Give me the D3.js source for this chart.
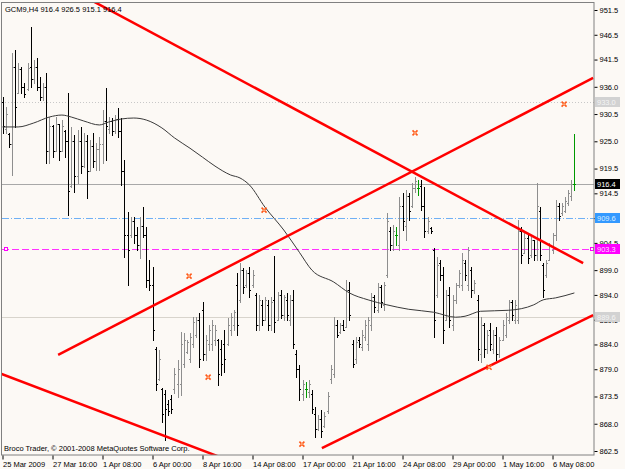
<!DOCTYPE html>
<meta charset="utf-8">
<style>
  body { margin: 0; background: #fcf9f5; }
  text { font-family: "Liberation Sans", Arial, sans-serif; font-size: 7.5px; }
</style>
<body>
<script src="https://cdn.jsdelivr.net/npm/d3@7/dist/d3.min.js"></script>
<script>

    var title = "GCM9,H4  916.4 926.5 915.1 916.4";
    var copyright = "Broco Trader, \u00a9 2001-2008 MetaQuotes Software Corp.";

    // H4 bars, oldest first (index = bar number)
    var openP = [
        933.0, 927.5, 926.5, 924.5, 940, 934.8, 939.5, 936, 935.5, 940,
        937.5, 940, 936, 934, 936, 923, 928, 923, 928.5, 923,
        927, 925, 916, 925, 918, 925, 920, 925, 919, 924,
        921, 923.5, 924.5, 929, 927.5, 929, 927, 929.5, 927, 919,
        906, 906, 909, 906, 904, 908, 906, 897, 896, 883,
        877, 875, 874, 872, 873, 875, 876, 876, 880, 882.5,
        881, 884, 886, 889, 891, 882, 884, 884, 885, 885,
        883, 884, 884, 887, 888, 896, 893, 899, 896, 898.5,
        896, 894, 888, 892, 889, 892, 888, 893, 889, 894,
        890, 893, 889, 893, 882, 879, 874, 875, 874.5, 874,
        870, 867, 869, 867.5, 870.5, 877, 878, 888, 886.5, 888,
        887.5, 895, 884, 881, 885, 883.5, 885.5, 884, 888, 893.5,
        891, 895.5, 892, 898, 907, 904, 906, 904, 912, 908,
        914, 912, 915.5, 915.5, 916, 912, 907, 907.5, 903, 894,
        900.5, 898, 889, 894, 888, 893, 896, 896, 900.5, 896,
        899, 895, 893, 882, 888, 883, 887, 883, 886, 882,
        885, 886, 889, 892.5, 889, 889, 907, 902.5, 905.5, 902,
        905, 902, 911, 900, 898, 901, 903, 906, 912, 910.5,
        911, 912.5, 914, 916.4
    ];
    var highP = [
        933.9, 931.9, 926.7, 942.8, 943.4, 940.8, 940.0, 936.8, 940.8, 948.1,
        941.4, 941.8, 938.0, 936.8, 938.8, 929.9, 928.3, 929.9, 928.3, 929.3,
        927.3, 934.7, 927.9, 926.3, 927.3, 927.9, 926.7, 926.3, 925.2, 926.7,
        924.6, 925.9, 931.3, 935.7, 929.9, 929.7, 930.3, 931.7, 929.7, 921.2,
        910.7, 909.7, 909.7, 907.7, 909.7, 911.7, 907.7, 901.0, 899.6, 883.5,
        882.9, 875.2, 874.8, 872.8, 873.8, 879.2, 880.9, 886.5, 886.3, 884.9,
        886.3, 889.5, 889.5, 890.3, 892.6, 885.9, 887.9, 888.9, 887.9, 885.1,
        884.9, 886.9, 889.3, 890.3, 890.9, 898.4, 900.4, 899.4, 899.0, 899.6,
        899.0, 894.4, 894.0, 893.0, 893.6, 893.0, 893.6, 901.8, 894.6, 895.0,
        894.0, 894.4, 894.0, 895.0, 882.9, 879.8, 876.8, 876.4, 876.8, 874.8,
        871.4, 869.8, 870.8, 870.4, 874.4, 879.8, 889.5, 888.9, 888.3, 888.9,
        897.0, 896.6, 884.9, 885.5, 885.5, 886.9, 888.9, 889.5, 894.4, 894.0,
        896.4, 896.0, 896.6, 910.5, 907.7, 908.1, 907.7, 913.7, 914.6, 915.2,
        914.6, 916.6, 917.8, 917.2, 917.2, 915.8, 909.7, 907.7, 903.5, 901.6,
        901.0, 899.6, 895.0, 895.6, 894.0, 896.4, 899.0, 902.4, 901.0, 903.7,
        899.6, 897.0, 894.0, 889.5, 888.3, 886.9, 888.3, 886.9, 887.5, 885.5,
        888.9, 890.3, 893.0, 893.0, 893.0, 909.1, 907.7, 906.5, 906.5, 905.7,
        905.1, 916.6, 911.7, 900.4, 901.0, 904.5, 906.5, 913.1, 912.5, 912.5,
        913.7, 915.2, 917.2, 926.5
    ];
    var lowP = [
        926.7, 926.7, 923.8, 918.2, 927.9, 934.7, 934.7, 933.9, 935.3, 935.9,
        936.8, 935.3, 933.3, 933.3, 920.6, 920.6, 921.8, 923.2, 921.2, 923.2,
        921.8, 910.1, 915.8, 914.8, 916.6, 918.6, 919.8, 913.5, 919.2, 919.8,
        919.2, 919.2, 920.6, 921.2, 926.7, 926.3, 926.7, 925.9, 916.2, 901.6,
        896.0, 905.7, 904.5, 903.0, 901.4, 905.7, 895.6, 895.0, 884.9, 874.8,
        876.8, 868.3, 864.7, 869.8, 870.2, 874.2, 873.4, 873.8, 879.4, 882.3,
        880.4, 883.5, 885.5, 879.4, 880.9, 880.9, 882.9, 882.9, 883.9, 875.8,
        877.8, 878.4, 883.9, 885.9, 886.9, 885.9, 892.6, 894.4, 895.6, 893.6,
        895.6, 886.9, 886.9, 887.9, 888.9, 886.9, 886.9, 886.5, 888.9, 889.3,
        888.9, 888.9, 887.9, 883.3, 877.4, 872.8, 872.8, 873.4, 873.4, 870.2,
        865.3, 866.7, 865.3, 867.3, 870.2, 876.2, 877.4, 885.5, 886.3, 886.9,
        887.5, 888.9, 879.4, 880.2, 883.5, 882.9, 884.9, 882.9, 886.9, 890.5,
        890.5, 891.5, 890.9, 897.6, 903.0, 903.0, 904.1, 903.0, 907.1, 905.1,
        909.1, 911.7, 914.8, 914.1, 911.1, 905.7, 906.5, 906.5, 885.5, 893.6,
        897.0, 884.3, 888.9, 887.5, 886.9, 892.4, 895.6, 895.0, 897.0, 895.0,
        893.6, 894.4, 880.9, 880.4, 881.5, 882.3, 882.9, 882.3, 880.9, 881.5,
        884.9, 885.5, 888.3, 888.9, 888.3, 888.3, 900.4, 902.4, 900.4, 901.6,
        901.0, 901.0, 901.0, 893.6, 897.6, 901.0, 902.4, 905.1, 909.1, 910.1,
        910.7, 912.1, 913.1, 915.1
    ];
    var closeP = [
        928, 930.5, 924.5, 940, 932, 939.5, 936, 934.5, 939.8, 937.5,
        940, 936, 934, 936, 923, 928, 923, 928.5, 923, 928,
        925, 915, 925, 918, 925, 920, 925, 919, 924, 921,
        923.5, 924.5, 929, 928, 929, 927, 929.5, 927, 919, 906,
        903, 909, 906, 904, 908, 906, 897, 896, 887, 876,
        881, 870, 871, 870.5, 871, 878, 879, 884, 885, 884.5,
        885.5, 888.5, 889, 881, 882, 885, 887, 888, 887, 878,
        880, 881, 888, 889.5, 890.5, 888, 899, 895.5, 898.5, 895,
        898, 888, 893, 889, 893, 888, 892.5, 888.5, 894, 890,
        893.5, 890, 893, 884, 879, 875, 876, 875, 876, 871,
        867, 869, 866.5, 869.5, 873.5, 879, 888, 886, 888, 887,
        895, 890, 880, 884.5, 884, 886, 888, 889, 893.5, 891.5,
        895.5, 892.5, 896, 909, 904, 907, 906, 912, 909, 914,
        911, 915.5, 917, 915.5, 912, 907, 909, 907, 889, 900,
        898, 887, 894, 889, 893, 896, 898.5, 901, 898, 903,
        895, 896.5, 883, 888, 883, 886, 884, 886, 882, 885,
        888, 889.5, 892.5, 890, 892, 907, 902, 905.5, 901.5, 905,
        902, 912, 902, 895, 900.5, 904, 906, 912, 910, 912,
        913, 914.5, 916.4, 916.4
    ];

    // moving average, read at some bars
    var maIdx = [0, 5, 10, 15, 19, 22, 26, 31, 34, 38, 42, 46, 51, 55, 60, 64, 68, 73, 76, 79,
                 84, 90, 95, 99, 106, 111, 117, 123, 130, 138, 145, 148, 153, 162, 170, 173, 177, 183];
    var maVal = [927.9, 927.9, 928.7, 929.9, 930.3, 929.9, 929.1, 928.3, 928.9, 929.5, 929.7, 929.3, 927.7, 925.7, 923.6, 921.8, 920.0, 918.2, 917.6, 916.2,
                 911.7, 907.1, 902.6, 899.0, 896.6, 894.4, 893.0, 892.0, 891.1, 890.5, 889.5, 889.7, 890.7, 890.9, 892.0, 893.0, 893.4, 894.4];

    // trend lines [idx1, price1, idx2, price2]
    var trendLines = [
        [28, 953.6, 185.8, 900.4],
        [17.8, 881.9, 189, 937.8],
        [102.2, 863.1, 189, 889.9],
        [-1, 878.2, 72, 860.7]
    ];

    // orange arrows
    var markIdx = [132.0, 179.7, 83.7, 59.7, 65.8, 95.8, 155.7];
    var markPrice = [926.7, 932.5, 911.1, 897.8, 877.4, 863.9, 879.4];

    var yTicks = [951.5, 946.5, 941.5, 936.0, 930.5, 925.0, 919.5, 914.5, 909.5, 904.5,
                  899.0, 894.0, 889.0, 884.0, 879.0, 873.5, 868.0, 862.5];
    var xTickIdx = [0, 16, 32, 48, 64, 80, 96, 112, 128, 144, 160, 176];
    var xLabels = ["25 Mar 2009", "27 Mar 16:00", "1 Apr 08:00", "6 Apr 00:00", "8 Apr 16:00", "14 Apr 08:00",
                   "17 Apr 00:00", "21 Apr 16:00", "24 Apr 08:00", "29 Apr 00:00", "1 May 16:00", "6 May 08:00"];

    // horizontal levels
    var levelPrice = [933.0, 916.4, 909.6, 903.3, 889.6];
    var levelText = ["933.0", "916.4", "909.6", "903.3", "889.6"];
    var levelColor = ["#c8c8c8", "#a8a8a8", "#6fb0f5", "#ff33ff", "#d8d4cc"];
    var levelDash = ["1,2", null, "7,2,1,2", "7,3", null];
    var levelBox = ["#d2d2d2", "#000000", "#3399ff", "#ff00ff", "#d2d2d2"];
    var levelBoxText = ["#f4f4f4", "#ffffff", "#d8ecff", "#ffd8ff", "#f4f4f4"];

    var w = 625, h = 469;
    var pl = 2, pr = 594, pt = 3, pb = 455;

    var x = d3.scaleLinear().domain([0, 183]).range([2.5, 574.4]);
    var y = d3.scaleLinear().domain([862.5, 951.5]).range([451, 10]);

    var svg = d3.select("body")
            .append("svg")
            .attr("width", w)
            .attr("height", h);

    svg.append("rect").attr("width", w).attr("height", h).attr("fill", "#fcf9f5");

    svg.append("clipPath").attr("id", "plot")
        .append("rect").attr("x", pl).attr("y", pt).attr("width", pr - pl).attr("height", pb - pt);

    var g = svg.append("g").attr("clip-path", "url(#plot)");

    // level lines
    levelPrice.forEach(function(p, k) {
        var yy = Math.round(y(p)) + 0.5;
        g.append("line")
            .attr("x1", pl).attr("x2", pr)
            .attr("y1", yy).attr("y2", yy)
            .attr("stroke", levelColor[k])
            .attr("stroke-dasharray", levelDash[k]);
    });

    // magenta end squares
    [4, 590].forEach(function(sx) {
        g.append("rect")
            .attr("x", sx + 0.5).attr("y", Math.round(y(903.3)) - 1.5)
            .attr("width", 3).attr("height", 3)
            .attr("fill", "#fcf9f5").attr("stroke", "#ff00ff");
    });

    // bars
    var bars = g.append("g").attr("shape-rendering", "crispEdges");
    d3.range(openP.length).forEach(function(i) {
        var o = openP[i], c = closeP[i];
        var col = o === c ? "#009900" : (c > o ? "#8e8e8e" : "#000000");
        var X = Math.round(x(i)) + 0.5;
        var yo = Math.round(y(o)) + 0.5, yc = Math.round(y(c)) + 0.5;
        bars.append("path")
            .attr("d", "M" + X + "," + Math.round(y(highP[i])) + "V" + (Math.round(y(lowP[i])) + 1) +
                       "M" + (X - 1.5) + "," + yo + "H" + X +
                       "M" + X + "," + yc + "H" + (X + 1.5))
            .attr("stroke", col)
            .attr("stroke-width", 1)
            .attr("fill", "none");
    });

    // moving average
    g.append("path")
        .datum(maIdx.map(function(d, k) { return [d, maVal[k]]; }))
        .attr("fill", "none")
        .attr("stroke", "#3a3a3a")
        .attr("stroke-width", 1)
        .attr("d", d3.line()
            .x(function(d) { return x(d[0]); })
            .y(function(d) { return y(d[1]); })
            .curve(d3.curveMonotoneX));

    // trend lines
    g.selectAll(".trend")
        .data(trendLines)
        .enter()
        .append("line")
        .attr("x1", function(d) { return x(d[0]); })
        .attr("y1", function(d) { return y(d[1]); })
        .attr("x2", function(d) { return x(d[2]); })
        .attr("y2", function(d) { return y(d[3]); })
        .attr("stroke", "#ff0000")
        .attr("stroke-width", 2.5);

    // markers
    markIdx.forEach(function(d, k) {
        var mx = x(d), my = y(markPrice[k]);
        g.append("path")
            .attr("d", "M" + (mx - 2.5) + "," + (my - 2.5) + "L" + (mx + 2.5) + "," + (my + 2.5) +
                       "M" + (mx - 2.5) + "," + (my + 2.5) + "L" + (mx + 2.5) + "," + (my - 2.5))
            .attr("stroke", "#ff5a1a")
            .attr("stroke-width", 1.6);
        g.append("circle").attr("cx", mx).attr("cy", my).attr("r", 1)
            .attr("fill", "#ffb080");
    });

    // frame
    svg.append("rect")
        .attr("x", pl - 0.5).attr("y", pt - 0.5)
        .attr("width", pr - pl + 0.5).attr("height", pb - pt + 0.5)
        .attr("fill", "none")
        .attr("stroke", "#808080");

    // right price axis
    var ya = svg.append("g")
        .attr("transform", "translate(" + (pr + 0.5) + ",0)")
        .call(d3.axisRight(y).tickValues(yTicks).tickSize(3).tickPadding(2)
            .tickFormat(d3.format(".1f")));
    ya.select(".domain").remove();
    ya.selectAll("line").attr("stroke", "#000");
    ya.selectAll("text").attr("fill", "#000").style("font-size", "7.5px");

    // bottom time axis
    var xa = svg.append("g")
        .attr("transform", "translate(0," + (pb + 0.5) + ")")
        .call(d3.axisBottom(x).tickValues(xTickIdx).tickSize(4)
            .tickFormat(function(d, k) { return xLabels[k]; }));
    xa.select(".domain").remove();
    xa.selectAll("line").attr("stroke", "#000");
    xa.selectAll("text")
        .attr("text-anchor", "start")
        .attr("x", 0)
        .attr("y", 6)
        .attr("fill", "#000")
        .style("font-size", "7.5px");

    // level labels
    levelPrice.forEach(function(p, k) {
        var yy = Math.round(y(p));
        svg.append("rect")
            .attr("x", 595).attr("y", yy - 5)
            .attr("width", 25).attr("height", 10)
            .attr("fill", levelBox[k]);
        svg.append("text")
            .attr("x", 597).attr("y", yy + 3)
            .attr("fill", levelBoxText[k])
            .text(levelText[k]);
    });

    svg.append("text").attr("x", 5).attr("y", 12).attr("fill", "#000").text(title);
    svg.append("text").attr("x", 4).attr("y", 451).attr("fill", "#000").text(copyright);

</script>
